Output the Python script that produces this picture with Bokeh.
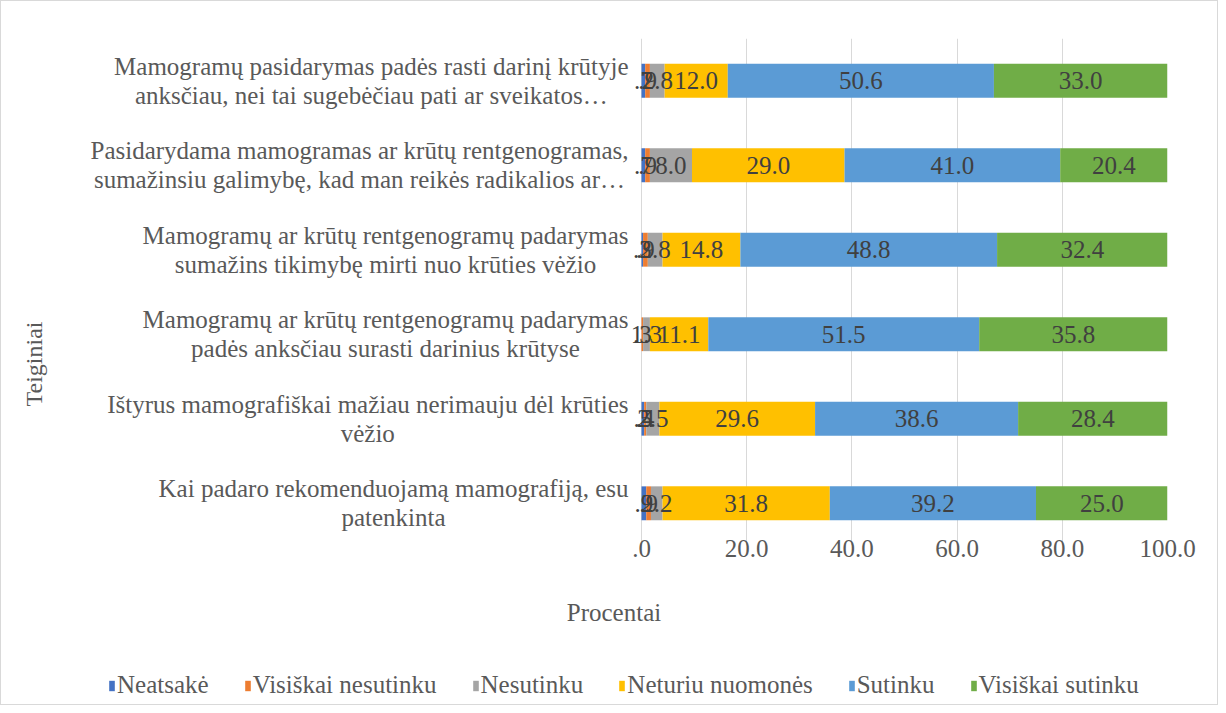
from bokeh.plotting import figure
from bokeh.layouts import column
from bokeh.models import (FactorRange, Range1d, FixedTicker, Legend, LegendItem,
                          ColumnDataSource)
from bokeh.core.properties import value
from bokeh.embed import file_html
from bokeh.resources import INLINE

# ---------------- data ----------------
categories = [
    "Mamogramų pasidarymas padės rasti darinį krūtyje\nanksčiau, nei tai sugebėčiau pati ar sveikatos…",
    "Pasidarydama mamogramas ar krūtų rentgenogramas,\nsumažinsiu galimybę, kad man reikės radikalios ar…",
    "Mamogramų ar krūtų rentgenogramų padarymas\nsumažins tikimybę mirti nuo krūties vėžio",
    "Mamogramų ar krūtų rentgenogramų padarymas\npadės anksčiau surasti darinius krūtyse",
    "Ištyrus mamografiškai mažiau nerimauju dėl krūties\nvėžio",
    "Kai padaro rekomenduojamą mamografiją, esu\npatenkinta",
]
series_names = ["Neatsakė", "Visiškai nesutinku", "Nesutinku",
                "Neturiu nuomonės", "Sutinku", "Visiškai sutinku"]
neatsake = [0.7, 0.7, 0.3, 0.0, 0.5, 0.9]
visiskai_nesutinku = [0.9, 0.9, 0.9, 0.3, 0.4, 0.9]
nesutinku = [2.8, 8.0, 2.8, 1.3, 2.5, 2.2]
neturiu_nuomones = [12.0, 29.0, 14.8, 11.1, 29.6, 31.8]
sutinku = [50.6, 41.0, 48.8, 51.5, 38.6, 39.2]
visiskai_sutinku = [33.0, 20.4, 32.4, 35.8, 28.4, 25.0]
colors = ["#4472C4", "#ED7D31", "#A5A5A5", "#FFC000", "#5B9BD5", "#70AD47"]
x_ticks = [0, 20, 40, 60, 80, 100]
x_tick_labels = [".0", "20.0", "40.0", "60.0", "80.0", "100.0"]

series_values = [neatsake, visiskai_nesutinku, nesutinku,
                 neturiu_nuomones, sutinku, visiskai_sutinku]

FONT = "Liberation Serif"
TXT = "#595959"

# ---------------- layout (pixels) ----------------
W, H = 1216, 655
LEG_H = 48
FRAME_L, FRAME_R = 59, 1166      # frame edges in figure pixels
ZERO_PX = 640                    # where the value 0 sits
FRAME_T, FRAME_B = 37, 544
x_start = -100.0 * (ZERO_PX - FRAME_L) / (FRAME_R - ZERO_PX)

data = {"cat": categories}
for name, vals in zip(series_names, series_values):
    data[name] = vals
source = ColumnDataSource(data)

factors = list(reversed(categories))
p = figure(width=W, height=H,
           y_range=FactorRange(factors=factors),
           x_range=Range1d(x_start, 100),
           output_backend="svg", toolbar_location=None,
           min_border_left=FRAME_L, min_border_right=W - FRAME_R,
           min_border_top=FRAME_T, min_border_bottom=H - FRAME_B)

renderers = p.hbar_stack(series_names, y="cat", height=0.4, color=colors,
                         source=source, line_color=None)

# value labels
lx, ly, lt = [], [], []
for i, cat in enumerate(categories):
    cum = 0.0
    for vals in series_values:
        v = vals[i]
        if v > 0:
            lx.append(cum + v / 2.0)
            ly.append(cat)
            s = f"{v:.1f}"
            if s.startswith("0"):
                s = s[1:]
            lt.append(s)
        cum += v
p.text(x=lx, y=ly, text=lt, text_align="center", text_baseline="middle",
       text_font=value(FONT), text_font_size="25px", text_color="#404040")

# category labels: block anchored at its right edge, lines centred
p.text(x=[0] * len(categories), y=categories, text=categories,
       x_offset=-13, anchor=value("center_right"), text_align="center",
       text_baseline="middle", text_font=value(FONT), text_font_size="25px",
       text_color=TXT, text_line_height=1.08)

# axes
p.xaxis.ticker = FixedTicker(ticks=x_ticks)
p.xaxis.major_label_overrides = {t: l for t, l in zip(x_ticks, x_tick_labels)}
p.xaxis.axis_line_color = None
p.xaxis.major_tick_line_color = None
p.xaxis.major_tick_out = 0
p.xaxis.minor_tick_line_color = None
p.xaxis.major_label_text_font = FONT
p.xaxis.major_label_text_font_size = "25px"
p.xaxis.major_label_text_color = TXT
p.xaxis.major_label_standoff = -6
p.xaxis.axis_label = "Procentai"
p.xaxis.axis_label_text_font = FONT
p.xaxis.axis_label_text_font_size = "25px"
p.xaxis.axis_label_text_font_style = "normal"
p.xaxis.axis_label_text_color = TXT
p.xaxis.axis_label_standoff = 39

# y title: trailing no-break spaces push the visible word below the frame centre
p.yaxis.axis_line_color = None
p.yaxis.major_tick_line_color = None
p.yaxis.major_tick_out = 0
p.yaxis.minor_tick_line_color = None
p.yaxis.major_label_text_font_size = "0px"
p.yaxis.major_label_standoff = 0
p.yaxis.axis_label = "Teiginiai" + "\u00a0" * 24
p.yaxis.axis_label_text_font = FONT
p.yaxis.axis_label_text_font_size = "24px"
p.yaxis.axis_label_text_font_style = "normal"
p.yaxis.axis_label_text_color = TXT
p.yaxis.axis_label_standoff = 14

p.xgrid.grid_line_color = "#d9d9d9"
p.ygrid.grid_line_color = None
p.outline_line_color = None

# legend strip: its own small figure; keys are the same stacked bars with
# zero height, outside that strip's visible x range, so only the legend shows
pl = figure(width=W, height=LEG_H, x_range=Range1d(-300, -200),
            y_range=FactorRange(factors=factors),
            output_backend="svg", toolbar_location=None, min_border=0)
pl.axis.visible = False
pl.grid.grid_line_color = None
pl.outline_line_color = None
keys = pl.hbar_stack(series_names, y="cat", height=0.0, color=colors,
                     source=source, line_color=None)
legend = Legend(items=[LegendItem(label=n, renderers=[r]) for n, r in zip(series_names, keys)],
                orientation="horizontal", location=(48, 5),
                label_text_font=FONT, label_text_font_size="25px",
                label_text_color=TXT, glyph_width=7, glyph_height=13,
                label_standoff=2, spacing=35, border_line_color=None,
                background_fill_alpha=0, margin=0, padding=4)
pl.add_layout(legend)

layout = column(p, pl, spacing=0)
layout.styles = {"border": "1px solid #d9d9d9"}
open("out.html", "w").write(file_html(layout, INLINE))
